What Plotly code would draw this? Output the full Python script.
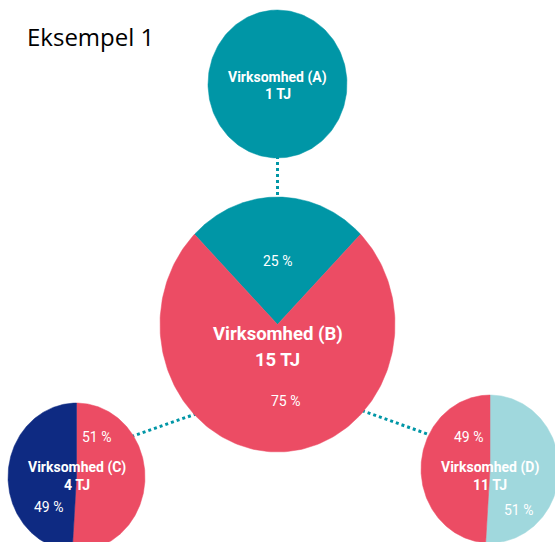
import numpy as np
import plotly.graph_objects as go

# ---------------- data ----------------
companies = ["Virksomhed (A)", "Virksomhed (B)", "Virksomhed (C)", "Virksomhed (D)"]
energy_tj = [1, 15, 4, 11]
# slice shares (clockwise from each pie's start angle)
shares_a = [100]
shares_b = [25, 75]
shares_c = [51, 49]
shares_d = [51, 49]
pct_labels_b = ["25 %", "75 %"]
pct_labels_c = ["51 %", "49 %"]
pct_labels_d = ["51 %", "49 %"]

# ---------------- style / layout ----------------
TEAL = "rgb(0,150,166)"
RED = "rgb(236,76,100)"
NAVY = "rgb(14,42,130)"
LIGHT = "rgb(160,216,221)"

W, H = 555, 542
# node geometry: centre x, centre y, radius x, radius y, start angle (deg clockwise from 12)
nodes = [
    dict(cx=277.5, cy=84, rx=69.5, ry=74, start=0, shares=shares_a, colors=[TEAL],
         pct=[], pct_off=[], name_dy=-7, tj_dy=10, fs=14),
    dict(cx=277.5, cy=324.5, rx=117.5, ry=127.5, start=-45, shares=shares_b, colors=[TEAL, RED],
         pct=pct_labels_b, pct_off=[(0, -64), (8, 76)], name_dy=9, tj_dy=35, fs=18.5),
    dict(cx=76.5, cy=477, rx=68.5, ry=74, start=0, shares=shares_c, colors=[RED, NAVY],
         pct=pct_labels_c, pct_off=[(20, -40), (-28, 30)], name_dy=-10, tj_dy=8, fs=14),
    dict(cx=490, cy=469, rx=69, ry=74, start=0, shares=shares_d, colors=[LIGHT, RED],
         pct=pct_labels_d, pct_off=[(28, 41), (-22, -32)], name_dy=-2, tj_dy=16, fs=14),
]
# connectors with endpoints hidden under the discs
connectors = [
    ((277.5, 150), (277.5, 205)),
    ((120, 440.5), (210, 409)),
    ((345, 404.5), (440, 438.5)),
]

fig = go.Figure()

for (x0, y0), (x1, y1) in connectors:
    fig.add_trace(go.Scatter(x=[x0, x1], y=[y0, y1], mode="lines",
                             line=dict(color=TEAL, width=3, dash="dot"),
                             hoverinfo="skip", showlegend=False))

annotations = []
for node, name, tj in zip(nodes, companies, energy_tj):
    total = sum(node["shares"])
    a0 = node["start"]
    for share, col in zip(node["shares"], node["colors"]):
        a1 = a0 + 360 * share / total
        th = np.radians(np.linspace(a0, a1, 200))
        xs = node["cx"] + node["rx"] * np.sin(th)
        ys = node["cy"] - node["ry"] * np.cos(th)
        if share < total:
            xs = np.concatenate([[node["cx"]], xs, [node["cx"]]])
            ys = np.concatenate([[node["cy"]], ys, [node["cy"]]])
        fig.add_trace(go.Scatter(x=xs, y=ys, mode="lines", fill="toself",
                                 fillcolor=col, line=dict(color=col, width=0.5),
                                 hoverinfo="skip", showlegend=False))
        a0 = a1
    for lab, (dx, dy) in zip(node["pct"], node["pct_off"]):
        annotations.append(dict(x=node["cx"] + dx, y=node["cy"] + dy, text=lab,
                                showarrow=False, xanchor="center", yanchor="middle",
                                font=dict(family="Roboto", size=14, color="white")))
    annotations.append(dict(x=node["cx"], y=node["cy"] + node["name_dy"], text=f"<b>{name}</b>",
                            showarrow=False, xanchor="center", yanchor="middle",
                            font=dict(family="Roboto", size=node["fs"], color="white")))
    annotations.append(dict(x=node["cx"], y=node["cy"] + node["tj_dy"], text=f"<b>{tj} TJ</b>",
                            showarrow=False, xanchor="center", yanchor="middle",
                            font=dict(family="Roboto", size=node["fs"], color="white")))

annotations.append(dict(x=25, y=36, text="Eksempel 1", showarrow=False,
                        xanchor="left", yanchor="middle",
                        font=dict(family="Open Sans", size=24, color="black")))

fig.update_layout(
    width=W, height=H,
    margin=dict(l=0, r=0, t=0, b=0),
    paper_bgcolor="white", plot_bgcolor="white",
    xaxis=dict(range=[0, W], visible=False, fixedrange=True),
    yaxis=dict(range=[H, 0], visible=False, fixedrange=True),
    annotations=annotations,
    showlegend=False,
)

fig.write_html("out.html", config={"displayModeBar": False},
               post_script="document.body.style.margin='0';document.body.style.overflow='hidden';")
